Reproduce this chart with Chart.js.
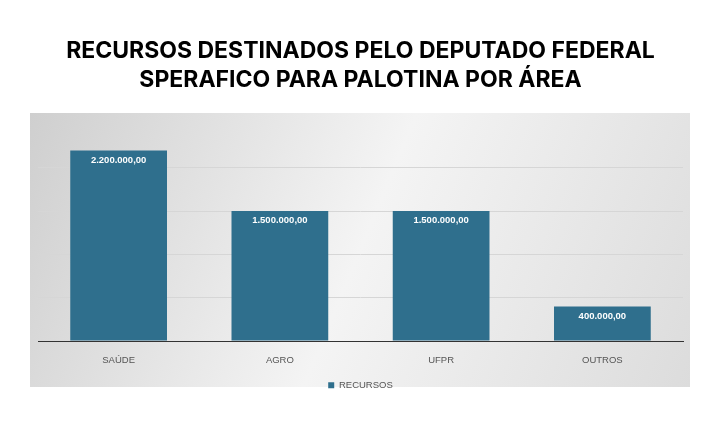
<!DOCTYPE html>
<html><head><meta charset="utf-8">
<script src="https://cdn.jsdelivr.net/npm/chart.js@4/dist/chart.umd.min.js"></script>
<style>html,body{margin:0;background:#fff}#w{width:720px;height:430px}</style>
</head><body><div id="w"><canvas id="c"></canvas></div>
<script>
const categories = ['SAÚDE','AGRO','UFPR','OUTROS'];
const recursos = [2200000,1500000,1500000,400000];
const valueLabels = ['2.200.000,00','1.500.000,00','1.500.000,00','400.000,00'];

const bgPlugin = {id:'bg', beforeDraw(ch){
  const c=ch.ctx; const x0=30,y0=113,x1=690,y1=387;
  const g=c.createLinearGradient(x0,y0,x1,y1);
  g.addColorStop(0,'#cfcfcf'); g.addColorStop(0.5,'#f4f4f4'); g.addColorStop(1,'#dcdcdc');
  c.save(); c.fillStyle=g; c.fillRect(x0,y0,x1-x0,y1-y0); c.restore();
}};
const lblPlugin = {id:'lbl', afterDatasetsDraw(ch){
  const c=ch.ctx; const m=ch.getDatasetMeta(0);
  c.save(); c.fillStyle='#fff'; c.font='bold 9.5px Arial, "Liberation Sans"'; c.textAlign='center'; c.textBaseline='top';
  m.data.forEach((b,i)=>c.fillText(valueLabels[i],b.x,b.y+5)); c.restore();
}};
new Chart(document.getElementById('c'),{
  type:'bar',
  data:{labels:categories,datasets:[{label:'RECURSOS',data:recursos,backgroundColor:'#2f6f8d',barPercentage:0.6,categoryPercentage:1}]},
  options:{responsive:true,maintainAspectRatio:false,animation:false,
    layout:{padding:{left:38,right:37,bottom:30,top:0}},
    plugins:{
      title:{display:true,text:['RECURSOS DESTINADOS PELO DEPUTADO FEDERAL','SPERAFICO PARA PALOTINA POR ÁREA'],color:'#000',
        font:{family:'Inter, Roboto, sans-serif',size:23,weight:'bold',lineHeight:1.27},padding:{top:36,bottom:30}},
      legend:{position:'bottom',labels:{boxWidth:6,boxHeight:6,color:'#555',font:{size:9.5,family:'Arial, "Liberation Sans"'},padding:8}},
      tooltip:{enabled:false}
    },
    scales:{
      x:{grid:{display:false},border:{color:'#333',width:1},ticks:{color:'#555',font:{size:9.5,family:'Arial, "Liberation Sans"'},padding:6}},
      y:{min:0,max:2500000,ticks:{display:false,stepSize:500000},border:{display:false},
        grid:{color:(c)=>c.tick.value===2500000?'rgba(0,0,0,0)':'#d6d6d6',drawTicks:false}}
    }
  },
  plugins:[bgPlugin,lblPlugin]
});
</script></body></html>
